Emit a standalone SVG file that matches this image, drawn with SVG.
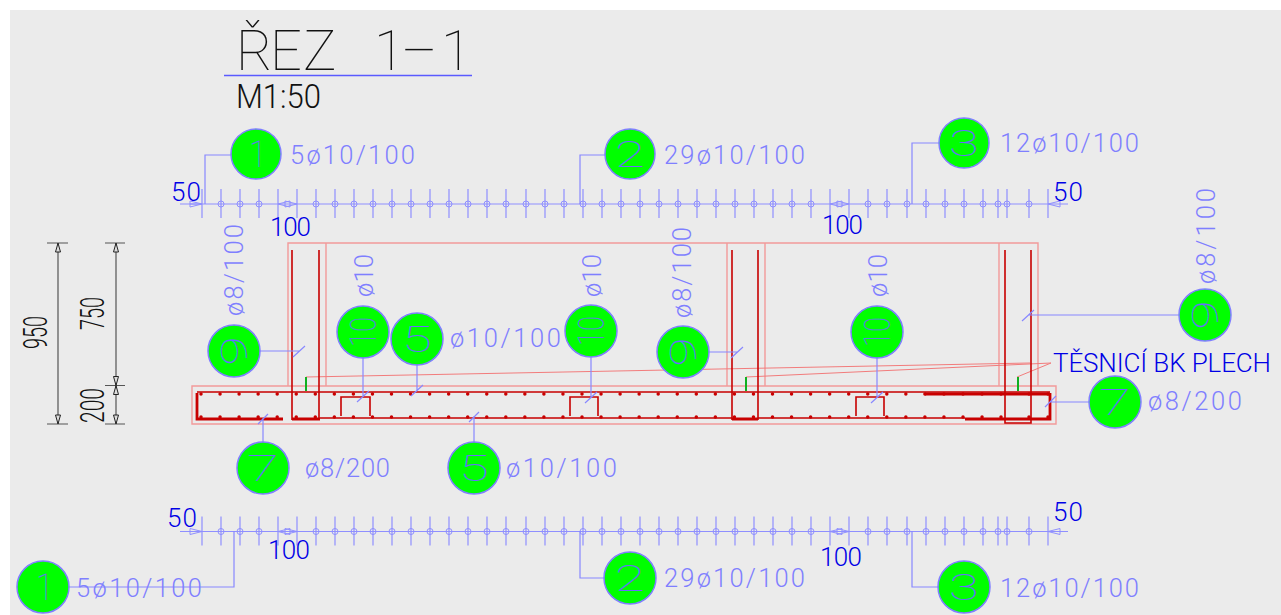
<svg xmlns="http://www.w3.org/2000/svg" width="1281" height="615" viewBox="0 0 1281 615">
<style>
text{font-family:"Roboto","Liberation Sans",sans-serif;font-weight:300}
.l{fill:#7f7fff;font-size:25.500px}
.d{fill:#0000e6;font-size:26px}
.k{fill:#111;font-size:34px;font-weight:300}
.n{fill:#6a6aff;font-size:37px;font-weight:100;text-anchor:middle}
.c{fill:#00ff00;stroke:#7f7fff;stroke-width:1.5}
.lead{fill:none;stroke:#8888ff;stroke-width:1.2}
.tick{fill:none;stroke:#8f8fff;stroke-width:1.2}
.pink{fill:none;stroke:#f29a9a;stroke-width:1.4}
.thin{fill:none;stroke:#f27c7c;stroke-width:1}
.bar{fill:none;stroke:#c80000;stroke-width:1.6}
.fat{fill:none;stroke:#c80000;stroke-width:2.800}
.dots{fill:none;stroke:#c80000;stroke-width:3.500;stroke-linecap:round;stroke-dasharray:0 19.05}
.grn{fill:none;stroke:#10b020;stroke-width:2}
.dim{fill:none;stroke:#555;stroke-width:1.2}
</style>
<defs>
<circle id="o" r="3" fill="none" stroke="#8f8fff" stroke-width="1"/>
<g id="scale">
<path class="tick" d="M180 204H1068M202 189V218M221 189V218M240 189V218M259 189V218M278 189V218M297 189V218M316 189V218M335 189V218M354 189V218M373 189V218M392 189V218M411 189V218M430 189V218M449 189V218M468 189V218M487 189V218M506 189V218M526 189V218M545 189V218M564 189V218M583 189V218M602 189V218M621 189V218M640 189V218M659 189V218M678 189V218M697 189V218M716 189V218M735 189V218M754 189V218M773 189V218M792 189V218M811 189V218M830 189V218M849 189V218M868 189V218M887 189V218M907 189V218M926 189V218M945 189V218M964 189V218M983 189V218M998 189V218M1007 189V218M1029 189V218M1048 189V218"/>
<path d="M190 204h12M202 204l-12-3v6zM278 204l12-3v6zM297 204l-12-3v6zM830 204l12-3v6zM849 204l-12-3v6zM1048 204l12-3v6z" fill="none" stroke="#8f8fff" stroke-width="1"/>
<use href="#o" x="221" y="204"/><use href="#o" x="240" y="204"/><use href="#o" x="259" y="204"/><use href="#o" x="316" y="204"/><use href="#o" x="335" y="204"/><use href="#o" x="354" y="204"/><use href="#o" x="373" y="204"/><use href="#o" x="392" y="204"/><use href="#o" x="411" y="204"/><use href="#o" x="430" y="204"/><use href="#o" x="449" y="204"/><use href="#o" x="468" y="204"/><use href="#o" x="487" y="204"/><use href="#o" x="506" y="204"/><use href="#o" x="526" y="204"/><use href="#o" x="545" y="204"/><use href="#o" x="564" y="204"/><use href="#o" x="583" y="204"/><use href="#o" x="602" y="204"/><use href="#o" x="621" y="204"/><use href="#o" x="640" y="204"/><use href="#o" x="659" y="204"/><use href="#o" x="678" y="204"/><use href="#o" x="697" y="204"/><use href="#o" x="716" y="204"/><use href="#o" x="735" y="204"/><use href="#o" x="754" y="204"/><use href="#o" x="773" y="204"/><use href="#o" x="792" y="204"/><use href="#o" x="811" y="204"/><use href="#o" x="868" y="204"/><use href="#o" x="887" y="204"/><use href="#o" x="907" y="204"/><use href="#o" x="926" y="204"/><use href="#o" x="945" y="204"/><use href="#o" x="964" y="204"/><use href="#o" x="983" y="204"/><use href="#o" x="998" y="204"/><use href="#o" x="1007" y="204"/><use href="#o" x="1029" y="204"/>
</g>
</defs>
<rect width="1281" height="615" fill="#fff"/>
<rect x="10" y="10" width="1271" height="605" fill="#ebebeb"/>

<g id="title">
<text x="236 270 303 350 374 401 441" y="70" font-size="56" fill="#111" style="font-weight:100">ŘEZ 1–1</text>
<path d="M224 75.500H472" stroke="#5a5aff" stroke-width="1.300"/>
<text class="k" x="236" y="108" textLength="85" lengthAdjust="spacingAndGlyphs">M1:50</text>
</g>

<g id="structure">
<path class="pink" d="M192 386H1056V424H192ZM288 386V243H1038V386M326 386V243M727 386V243M765 386V243M999 386V243"/>
<path class="thin" d="M306 377L1030 363M746 377L1051 363M1017 377L1051 363"/>
<path class="grn" d="M306 377V391M746 377V391M1018 377V391"/>
<path class="bar" d="M197 392H1050M292 250V420M319 250V420M732 250V420M758 250V420M1005 250V423H1031V250M341 416V397H370V416M570 416V397H598V416M856 416V397H884V416M320 418H732M758 418H965"/>
<path class="fat" d="M197 393V419H283M292 419H320M732 419H758M965 419H1050V393M925 394H1050"/>
<path class="dots" d="M201 394H984M201 417H984"/>
<path class="dots" d="M1001 394h.01M1029 394h.01M1048 394h.01M1001 417h.01M1029 417h.01M1048 417h.01" style="stroke-dasharray:none"/>
</g>

<g id="scales">
<use href="#scale"/>
<use href="#scale" y="327.500"/>
<text class="d" x="171" y="201" textLength="30">50</text>
<text class="d" x="270" y="236" textLength="41">100</text>
<text class="d" x="822" y="234" textLength="41">100</text>
<text class="d" x="1053" y="201" textLength="30">50</text>
<text class="d" x="167" y="527" textLength="30">50</text>
<text class="d" x="268" y="559" textLength="42">100</text>
<text class="d" x="820" y="566" textLength="42">100</text>
<text class="d" x="1053" y="521" textLength="30">50</text>
</g>

<g id="dimensions">
<path class="dim" d="M47 243H68M47 424H68M58 243V424M105 243H125M105 385.500H125M105 424H125M116 243V424"/>
<path d="M58 243l-2.500 9h5zM58 424l-2.500-9h5zM116 243l-2.500 9h5zM116 385.500l-2.500-9h5zM116 385.500l-2.500 9h5zM116 424l-2.500-9h5z" fill="#ddd" stroke="#222" stroke-width="1"/>
<text class="k" transform="translate(47 349) rotate(-90)" textLength="33" lengthAdjust="spacingAndGlyphs">950</text>
<text class="k" transform="translate(104 330) rotate(-90)" textLength="33" lengthAdjust="spacingAndGlyphs">750</text>
<text class="k" transform="translate(104 423) rotate(-90)" textLength="35" lengthAdjust="spacingAndGlyphs">200</text>
</g>

<g id="connectors">
<path class="lead" d="M231 155H205V204M605 155H580V204M939 143H912V204M69 587H234V531M605 578H580V531M939 587H912V531"/>
<path class="lead" d="M260 351H299M293 357L305 346M363 358V396M357 402L369 391M417 365V390M411 396L423 385M591 357V398M585 403L597 392M709 352H737M731 358L743 347M877 358V398M871 403L883 392M1179 315H1028M1022 321L1034 310M1089 402H1050M1045 407L1056 396M263 442V418M258 424L268 414M474 442V416M469 422L479 412"/>
</g>

<g id="n1"><circle class="c" cx="256" cy="154" r="25"/><text class="n" x="258" y="167" textLength="18" lengthAdjust="spacingAndGlyphs">1</text><text class="l" x="290" y="164" textLength="125">5ø10/100</text></g>
<g id="n2"><circle class="c" cx="630" cy="154" r="25"/><text class="n" x="630" y="167" textLength="30" lengthAdjust="spacingAndGlyphs">2</text><text class="l" x="664" y="164" textLength="141">29ø10/100</text></g>
<g id="n3"><circle class="c" cx="964" cy="143" r="25"/><text class="n" x="964" y="156" textLength="30" lengthAdjust="spacingAndGlyphs">3</text><text class="l" x="1000" y="152" textLength="139">12ø10/100</text></g>
<g id="n9a"><circle class="c" cx="234" cy="351" r="26"/><text class="n" transform="translate(247 351) rotate(-90)" textLength="30" lengthAdjust="spacingAndGlyphs">9</text><text class="l" transform="translate(243 316) rotate(-90)" textLength="92">ø8/100</text></g>
<g id="n10a"><circle class="c" cx="363" cy="332" r="26"/><text class="n" transform="translate(376 332) rotate(-90)" textLength="30" lengthAdjust="spacingAndGlyphs">10</text><text class="l" transform="translate(373 297) rotate(-90)" textLength="43">ø10</text></g>
<g id="n5a"><circle class="c" cx="417" cy="339" r="26"/><text class="n" x="417" y="352" textLength="30" lengthAdjust="spacingAndGlyphs">5</text><text class="l" x="450" y="347" textLength="111">ø10/100</text></g>
<g id="n10b"><circle class="c" cx="591" cy="331" r="26"/><text class="n" transform="translate(604 331) rotate(-90)" textLength="30" lengthAdjust="spacingAndGlyphs">10</text><text class="l" transform="translate(601 297) rotate(-90)" textLength="43">ø10</text></g>
<g id="n9b"><circle class="c" cx="683" cy="352" r="26"/><text class="n" transform="translate(696 352) rotate(-90)" textLength="30" lengthAdjust="spacingAndGlyphs">9</text><text class="l" transform="translate(691 318) rotate(-90)" textLength="91">ø8/100</text></g>
<g id="n10c"><circle class="c" cx="877" cy="332" r="26"/><text class="n" transform="translate(890 332) rotate(-90)" textLength="30" lengthAdjust="spacingAndGlyphs">10</text><text class="l" transform="translate(887 297) rotate(-90)" textLength="43">ø10</text></g>
<g id="n9c"><circle class="c" cx="1205" cy="315" r="26"/><text class="n" transform="translate(1218 315) rotate(-90)" textLength="30" lengthAdjust="spacingAndGlyphs">9</text><text class="l" transform="translate(1215 284) rotate(-90)" textLength="96">ø8/100</text></g>
<g id="n7a"><circle class="c" cx="1115" cy="402" r="26"/><text class="n" x="1115" y="415" textLength="32" lengthAdjust="spacingAndGlyphs">7</text><text class="l" x="1148" y="410" textLength="94">ø8/200</text></g>
<g id="n7b"><circle class="c" cx="263" cy="468" r="26"/><text class="n" x="263" y="481" textLength="32" lengthAdjust="spacingAndGlyphs">7</text><text class="l" x="305" y="477" textLength="85">ø8/200</text></g>
<g id="n5b"><circle class="c" cx="474" cy="468" r="26"/><text class="n" x="474" y="481" textLength="30" lengthAdjust="spacingAndGlyphs">5</text><text class="l" x="506" y="477" textLength="111">ø10/100</text></g>
<g id="n1b"><circle class="c" cx="43" cy="587" r="26"/><text class="n" x="45" y="600" textLength="18" lengthAdjust="spacingAndGlyphs">1</text><text class="l" x="76" y="597" textLength="126">5ø10/100</text></g>
<g id="n2b"><circle class="c" cx="630" cy="578" r="26"/><text class="n" x="630" y="591" textLength="30" lengthAdjust="spacingAndGlyphs">2</text><text class="l" x="664" y="587" textLength="141">29ø10/100</text></g>
<g id="n3b"><circle class="c" cx="964" cy="587" r="26"/><text class="n" x="964" y="600" textLength="30" lengthAdjust="spacingAndGlyphs">3</text><text class="l" x="1000" y="597" textLength="139">12ø10/100</text></g>
<g id="plech"><text class="d" x="1053" y="372" textLength="218">TĚSNICÍ BK PLECH</text></g>
</svg>
